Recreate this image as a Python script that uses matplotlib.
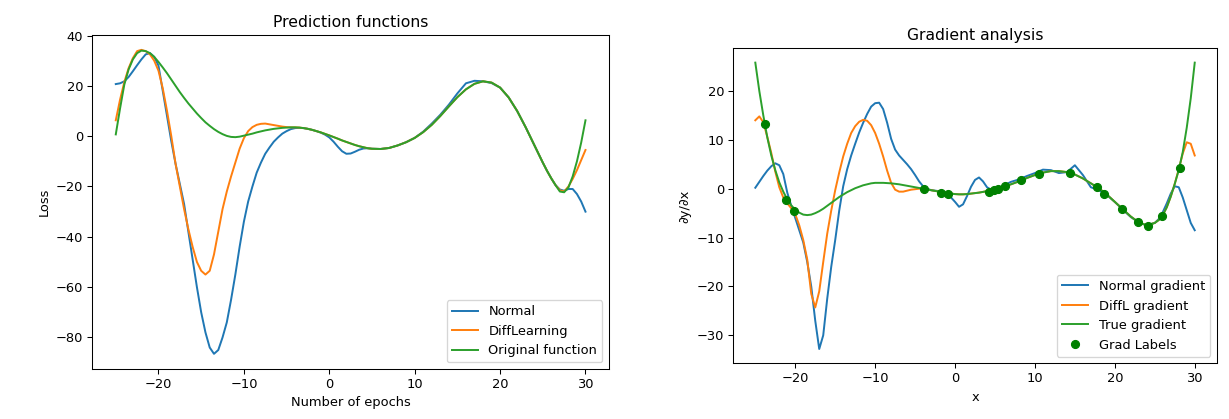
import matplotlib
matplotlib.use('Agg')
import matplotlib.pyplot as plt
import numpy as np

x_a = [-25, -24.5, -24, -23.5, -23, -22.5, -22, -21.5, -21, -20.5,
       -20, -19.5, -19, -18.5, -18, -17.5, -17, -16.5, -16, -15.5,
       -15, -14.5, -14, -13.5, -13, -12.5, -12, -11.5, -11, -10.5,
       -10, -9.5, -9, -8.5, -8, -7.5, -7, -6.5, -6, -5.5,
       -5, -4.5, -4, -3.5, -3, -2.5, -2, -1.5, -1, -0.5,
       0, 0.5, 1, 1.5, 2, 2.5, 3, 3.5, 4, 4.5, 5]
x_b = [6, 7, 8, 9, 10, 11, 12, 13, 14, 15, 16, 17, 18, 19, 20, 21, 22, 23, 24, 25]
x_c = [25.5, 26, 26.5, 27, 27.5, 28, 28.5, 29, 29.5, 30]
x = x_a + x_b + x_c

# --- Prediction functions ---
normal_pred = [20.7, 21, 21.8, 23.5, 25.8, 28.2, 30.5, 32.5, 33, 31.5,
               28, 18, 8, -2, -11, -19, -27, -38, -49, -60,
               -70, -78, -84, -86.5, -85, -80, -74, -65, -55, -44,
               -34, -26, -20, -14.5, -10.5, -7, -4.5, -2.2, -0.5, 1,
               2, 2.8, 3.2, 3.3, 3.2, 2.9, 2.5, 2.0, 1.4, 0.6,
               -0.5, -2.2, -4.2, -6, -7, -6.9, -6.2, -5.4, -4.9, -4.8, -5.0,
               -5.1, -4.7, -3.7, -2.4, -0.7, 1.8, 5, 8.5, 12.5, 17,
               21, 22, 21.8, 21.1, 19.3, 15.4, 10, 3.5, -3.5, -10.5,
               -13.8, -16.8, -19.5, -21.2, -21.7, -21, -21, -23, -26, -30]

diff_pred = [6.3, 14.5, 21.5, 27, 31, 33.8, 34.3, 33.8, 32.5, 30,
             26, 19, 10, 0, -11, -20, -29, -37, -44, -50,
             -53.5, -55, -53.5, -47, -38, -29, -22, -16, -10.5, -5,
             -0.8, 2, 3.6, 4.5, 4.9, 5, 4.7, 4.4, 4.1, 3.8,
             3.6, 3.5, 3.5, 3.4, 3.2, 2.9, 2.5, 2.0, 1.5, 0.9,
             0.3, -0.35, -1.0, -1.7, -2.3, -2.9, -3.5, -4.0, -4.4, -4.8, -5.0,
             -5.1, -4.7, -3.7, -2.4, -0.7, 1.6, 4.5, 8, 11.8, 15.5,
             18.6, 20.8, 21.8, 21.3, 19.3, 15.4, 10, 3.5, -3.5, -10.5,
             -13.8, -16.8, -19.5, -21.5, -22, -20, -17, -13.5, -9.5, -5.5]

orig_func = [0.7, 11, 20.5, 26.5, 30.5, 33, 34, 33.8, 33, 31.5,
             29.5, 27.3, 25, 22.5, 20, 17.5, 15.2, 13, 11, 9,
             7.2, 5.5, 4.1, 2.8, 1.7, 0.8, 0.1, -0.3, -0.4, -0.2,
             0.2, 0.6, 1.0, 1.5, 1.9, 2.3, 2.6, 2.9, 3.1, 3.3,
             3.4, 3.5, 3.5, 3.4, 3.2, 2.9, 2.5, 2.0, 1.5, 0.9,
             0.3, -0.35, -1.0, -1.7, -2.3, -2.9, -3.5, -4.0, -4.4, -4.8, -5.0,
             -5.1, -4.7, -3.7, -2.4, -0.7, 1.6, 4.5, 8, 11.8, 15.5,
             18.6, 20.8, 21.8, 21.3, 19.3, 15.4, 10, 3.5, -3.5, -10.5,
             -13.8, -16.8, -19.5, -22, -22.3, -20.4, -16, -10, -2.5, 6.3]

# --- Gradients ---
normal_grad = [0.2, 1.4, 2.6, 3.7, 4.6, 5.2, 4.8, 3, -0.8, -3.5,
               -6, -8.5, -11, -15, -20, -27, -32.8, -30, -22.5, -16,
               -10.5, -4.5, 0.5, 4, 6.8, 9.2, 11.5, 13.5, 15.3, 16.8,
               17.5, 17.6, 16.3, 13.5, 10.2, 8, 6.8, 5.9, 5, 4,
               2.8, 1.5, 0.5, 0, -0.3, -0.4, -0.5, -0.7, -1.1, -1.8,
               -2.7, -3.7, -3.2, -1.5, 0.4, 1.8, 2.3, 1.5, 0.3, -0.2, -0.3,
               0.6, 1.4, 1.9, 2.6, 3.2, 3.9, 3.8, 3.2, 3.4, 4.8,
               2.8, 0.3, -0.3, -1.3, -2.7, -4.3, -5.8, -6.9, -7.5, -7.0,
               -6.2, -4.8, -3, -1, 0.5, 0.3, -1.8, -4.4, -7, -8.5]

diff_grad = [14, 14.8, 13.6, 10.6, 7.3, 3.5, 0.3, -1.8, -3, -4,
             -5.2, -7.5, -10.5, -14.5, -21.5, -24.3, -21, -15, -9.2, -4.5,
             -0.3, 3.3, 6.6, 9.2, 11.4, 12.8, 13.7, 14.1, 13.9, 13,
             11.4, 9.2, 6.6, 3.7, 1.2, -0.2, -0.6, -0.6, -0.4, -0.2,
             -0.1, 0, 0, -0.15, -0.3, -0.45, -0.6, -0.75, -0.9, -1.0,
             -1.1, -1.15, -1.15, -1.1, -1.0, -0.9, -0.8, -0.65, -0.5, -0.35, -0.15,
             0.4, 0.9, 1.5, 2.2, 2.8, 3.3, 3.6, 3.6, 3.4, 2.9,
             2.1, 1.1, 0.1, -1.2, -2.7, -4.2, -5.7, -6.9, -7.5, -7.0,
             -6.4, -5.4, -3.8, -1.6, 1, 4, 7.2, 9.5, 9.2, 6.8]

true_grad = [25.8, 20, 15, 10.5, 6.8, 3.8, 1.3, -0.6, -2.2, -3.4,
             -4.3, -4.9, -5.3, -5.4, -5.3, -5.0, -4.6, -4.1, -3.5, -2.9,
             -2.3, -1.7, -1.2, -0.7, -0.3, 0.1, 0.4, 0.7, 0.9, 1.1,
             1.2, 1.2, 1.2, 1.15, 1.1, 1.0, 0.9, 0.75, 0.6, 0.45,
             0.3, 0.15, 0.0, -0.15, -0.3, -0.45, -0.6, -0.75, -0.9, -1.0,
             -1.1, -1.15, -1.15, -1.1, -1.0, -0.9, -0.8, -0.65, -0.5, -0.35, -0.15,
             0.4, 0.9, 1.5, 2.2, 2.8, 3.3, 3.6, 3.6, 3.4, 2.9,
             2.1, 1.1, 0.1, -1.2, -2.7, -4.2, -5.7, -6.9, -7.5, -7.0,
             -6.4, -5.4, -3.8, -1.6, 1.0, 3.8, 7.5, 12.5, 18.5, 25.8]

label_x = [-23.8, -21.1, -20.1, -3.9, -1.7, -0.9, 4.2, 4.9, 5.4, 6.2,
           8.2, 10.5, 14.4, 17.8, 18.7, 20.9, 22.9, 24.1, 25.9, 28.1]
label_y = [13.2, -2.4, -4.5, 0.0, -0.8, -1.1, -0.6, -0.3, -0.1, 0.5,
           1.7, 3.0, 3.2, 0.3, -1.0, -4.2, -6.9, -7.6, -5.6, 4.3]

fig = plt.figure(figsize=(1229 / 94, 419 / 94), dpi=94)

ax1 = fig.add_axes([0.0751, 0.1193, 0.4204, 0.798])
ax1.plot(x, normal_pred, label='Normal')
ax1.plot(x, diff_pred, label='DiffLearning')
ax1.plot(x, orig_func, label='Original function')
ax1.set_title('Prediction functions')
ax1.set_xlabel('Number of epochs')
ax1.set_ylabel('Loss')
ax1.legend(loc='lower right')

ax2 = fig.add_axes([0.5967, 0.1329, 0.3933, 0.7518])
ax2.plot(x, normal_grad, label='Normal gradient')
ax2.plot(x, diff_grad, label='DiffL gradient')
ax2.plot(x, true_grad, label='True gradient')
ax2.plot(label_x, label_y, 'o', color='green', label='Grad Labels')
ax2.set_title('Gradient analysis')
ax2.set_xlabel('x')
ax2.set_ylabel('∂y/∂x')
ax2.legend(loc='lower right')

fig.savefig('out.png', dpi=94)
